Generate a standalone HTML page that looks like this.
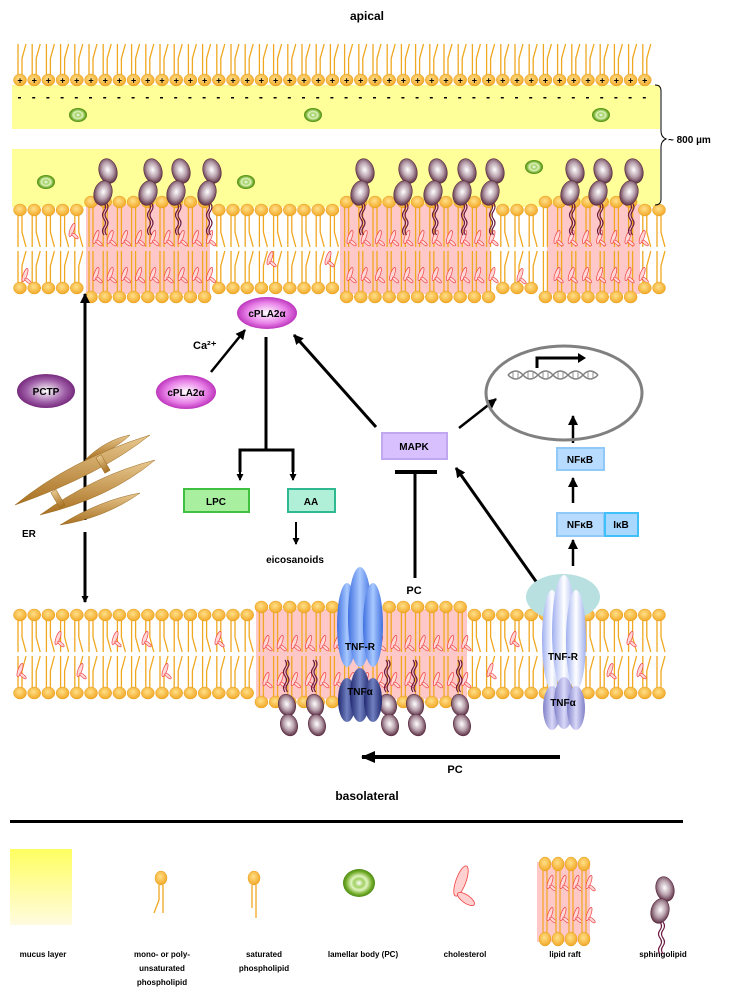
<!DOCTYPE html>
<html><head><meta charset="utf-8">
<style>
html,body{margin:0;padding:0;background:#fff;}
svg{display:block;font-family:"Liberation Sans",Arial,sans-serif;font-weight:bold;}
</style></head>
<body>
<svg id="s" width="735" height="1000" viewBox="0 0 735 1000" xmlns="http://www.w3.org/2000/svg">
<defs>
<radialGradient id="head" cx="45%" cy="40%" r="60%"><stop offset="0" stop-color="#ffe08a"/><stop offset="1" stop-color="#f2a825"/></radialGradient>
<radialGradient id="sph" cx="50%" cy="45%" r="60%"><stop offset="0" stop-color="#ffffff"/><stop offset="0.5" stop-color="#b8a0ac"/><stop offset="1" stop-color="#4a1a30"/></radialGradient>
<radialGradient id="mag" cx="50%" cy="50%" r="55%"><stop offset="0" stop-color="#ffffff"/><stop offset="0.6" stop-color="#e880e8"/><stop offset="1" stop-color="#b020b0"/></radialGradient>
<radialGradient id="pur" cx="50%" cy="50%" r="55%"><stop offset="0" stop-color="#ffffff"/><stop offset="0.6" stop-color="#a060a8"/><stop offset="1" stop-color="#6a1a70"/></radialGradient>
<radialGradient id="lam" cx="50%" cy="50%" r="50%"><stop offset="0" stop-color="#ffffff"/><stop offset="0.3" stop-color="#a0d060"/><stop offset="0.5" stop-color="#e0f4c0"/><stop offset="0.8" stop-color="#78b030"/><stop offset="1" stop-color="#4a8a10"/></radialGradient>
<linearGradient id="tnf" x1="0" x2="1"><stop offset="0" stop-color="#4070e0"/><stop offset="0.5" stop-color="#a8c8ff"/><stop offset="1" stop-color="#4070e0"/></linearGradient>
<linearGradient id="tnfa" x1="0" x2="1"><stop offset="0" stop-color="#202870"/><stop offset="0.5" stop-color="#7080c0"/><stop offset="1" stop-color="#202870"/></linearGradient>
<linearGradient id="tnf2" x1="0" x2="1"><stop offset="0" stop-color="#a0b0f0"/><stop offset="0.5" stop-color="#ffffff"/><stop offset="1" stop-color="#a0b0f0"/></linearGradient>
<linearGradient id="tnfa2" x1="0" x2="1"><stop offset="0" stop-color="#8080c8"/><stop offset="0.5" stop-color="#d8d8f8"/><stop offset="1" stop-color="#8080c8"/></linearGradient>
<linearGradient id="muc" x1="0" y1="0" x2="0" y2="1"><stop offset="0" stop-color="#ffff60"/><stop offset="1" stop-color="#fffbe0"/></linearGradient>
<linearGradient id="er" x1="0" y1="0" x2="0" y2="1"><stop offset="0" stop-color="#e8c890"/><stop offset="1" stop-color="#a87020"/></linearGradient>
<marker id="ar" markerWidth="10" markerHeight="10" refX="9" refY="5" orient="auto" markerUnits="userSpaceOnUse"><path d="M0,0 L10,5 L0,10 z" fill="#000"/></marker>
<marker id="ar2" markerWidth="7" markerHeight="7" refX="6" refY="3.5" orient="auto" markerUnits="userSpaceOnUse"><path d="M0,0 L7,3.5 L0,7 z" fill="#000"/></marker>
<marker id="ar3" markerWidth="14" markerHeight="12" refX="13" refY="6" orient="auto" markerUnits="userSpaceOnUse"><path d="M0,0 L14,6 L0,12 z" fill="#000"/></marker>
</defs>

<text x="367" y="20" text-anchor="middle" font-size="12">apical</text>

<rect x="12" y="85" width="648" height="44" fill="#ffff99"/>
<rect x="12" y="149" width="648" height="58" fill="#ffff99"/>
<g id="dyn"></g>
<path d="M655,85 q6,0 6,6 v40 q0,6 5,8 q-5,2 -5,8 v52 q0,6 -6,6" fill="none" stroke="#000" stroke-width="1"/>
<text x="668" y="143" font-size="10">~ 800 µm</text>

<g stroke="#000" stroke-width="3" fill="none">
<line x1="85" y1="520" x2="85" y2="294" marker-end="url(#ar)"/>
<line x1="85" y1="532" x2="85" y2="602" marker-end="url(#ar2)"/>
<line x1="211" y1="372" x2="245" y2="330" stroke-width="2.5" marker-end="url(#ar)"/>
<line x1="266" y1="337" x2="266" y2="450"/>
<polyline points="240,472 240,450 293,450 293,472" />
<line x1="240" y1="470" x2="240" y2="480" stroke-width="2" marker-end="url(#ar2)"/>
<line x1="293" y1="470" x2="293" y2="480" stroke-width="2" marker-end="url(#ar2)"/>
<line x1="296" y1="522" x2="296" y2="544" stroke-width="2" marker-end="url(#ar2)"/>
<line x1="376" y1="427" x2="294" y2="335" marker-end="url(#ar)"/>
<line x1="459" y1="428" x2="496" y2="399" stroke-width="2.5" marker-end="url(#ar)"/>
<line x1="395" y1="472" x2="437" y2="472" stroke-width="4"/>
<line x1="415" y1="472" x2="415" y2="578"/>
<line x1="547" y1="597" x2="456" y2="468" marker-end="url(#ar)"/>
<line x1="573" y1="566" x2="573" y2="540" stroke-width="2.5" marker-end="url(#ar)"/>
<line x1="573" y1="503" x2="573" y2="478" stroke-width="2.5" marker-end="url(#ar)"/>
<line x1="573" y1="443" x2="573" y2="416" stroke-width="2.5" marker-end="url(#ar)"/>
<line x1="560" y1="757" x2="362" y2="757" stroke-width="4" marker-end="url(#ar3)"/>
</g>

<ellipse cx="267" cy="313" rx="30" ry="16" fill="url(#mag)"/>
<text x="267" y="317" text-anchor="middle" font-size="10">cPLA2α</text>
<ellipse cx="186" cy="392" rx="30" ry="17" fill="url(#mag)"/>
<text x="186" y="396" text-anchor="middle" font-size="10">cPLA2α</text>
<text x="193" y="349" font-size="11">Ca²⁺</text>
<ellipse cx="46" cy="391" rx="29" ry="17" fill="url(#pur)"/>
<text x="46" y="395" text-anchor="middle" font-size="10" fill="#000">PCTP</text>

<g fill="url(#er)" stroke="#9a6a20" stroke-width="0.5">
<path d="M85,460 q20,-20 45,-25 q-15,15 -45,25z"/>
<path d="M15,505 q55,-45 135,-70 q-50,40 -135,70z"/>
<path d="M40,515 q55,-40 115,-55 q-45,38 -115,55z"/>
<path d="M60,525 q40,-25 80,-32 q-35,25 -80,32z"/>
<rect x="100" y="455" width="6" height="18" transform="rotate(-30 103 464)"/>
<rect x="55" y="490" width="6" height="18" transform="rotate(-30 58 499)"/>
</g>
<text x="22" y="537" font-size="10">ER</text>

<rect x="184" y="489" width="65" height="23" fill="#a8f0a0" stroke="#40c040" stroke-width="2"/>
<text x="216" y="505" text-anchor="middle" font-size="10">LPC</text>
<rect x="288" y="489" width="47" height="23" fill="#b0f0d8" stroke="#30b890" stroke-width="2"/>
<text x="311" y="505" text-anchor="middle" font-size="10">AA</text>
<text x="295" y="563" text-anchor="middle" font-size="10">eicosanoids</text>
<rect x="382" y="433" width="65" height="26" fill="#d8c0ff" stroke="#c0a8f0" stroke-width="2"/>
<text x="414" y="450" text-anchor="middle" font-size="10">MAPK</text>
<rect x="557" y="448" width="47" height="22" fill="#b8dcff" stroke="#90c8f8" stroke-width="2"/>
<text x="580" y="463" text-anchor="middle" font-size="10">NFκB</text>
<rect x="557" y="513" width="47" height="23" fill="#b8dcff" stroke="#90c8f8" stroke-width="2"/>
<text x="580" y="528" text-anchor="middle" font-size="10">NFκB</text>
<rect x="605" y="513" width="33" height="23" fill="#a8d8ff" stroke="#40c0f8" stroke-width="2"/>
<text x="621" y="528" text-anchor="middle" font-size="10">IκB</text>

<ellipse cx="564" cy="393" rx="78" ry="47" fill="none" stroke="#808080" stroke-width="3"/>
<path d="M537,368 v-10 h43" fill="none" stroke="#000" stroke-width="3"/>
<path d="M578,353 l8,5 l-8,5z" fill="#000"/>
<g stroke="#808080" stroke-width="1.5" fill="none">
<path d="M508,375 q8,-8 15,0 t15,0 t15,0 t15,0 t15,0 t15,0"/>
<path d="M508,375 q8,8 15,0 t15,0 t15,0 t15,0 t15,0 t15,0"/>
</g>
<g stroke="#909090" stroke-width="1">
<line x1="513" y1="372" x2="513" y2="378"/><line x1="518" y1="371" x2="518" y2="379"/>
<line x1="528" y1="372" x2="528" y2="378"/><line x1="533" y1="371" x2="533" y2="379"/>
<line x1="543" y1="372" x2="543" y2="378"/><line x1="548" y1="371" x2="548" y2="379"/>
<line x1="558" y1="372" x2="558" y2="378"/><line x1="563" y1="371" x2="563" y2="379"/>
<line x1="573" y1="372" x2="573" y2="378"/><line x1="578" y1="371" x2="578" y2="379"/>
<line x1="588" y1="372" x2="588" y2="378"/><line x1="593" y1="371" x2="593" y2="379"/>
</g>
<text x="414" y="594" text-anchor="middle" font-size="11">PC</text>
<text x="455" y="773" text-anchor="middle" font-size="11">PC</text>

<g id="dyn2"></g>

<text x="367" y="800" text-anchor="middle" font-size="12">basolateral</text>
<rect x="10" y="820" width="673" height="3" fill="#000"/>
<rect x="10" y="849" width="62" height="76" fill="url(#muc)"/>
<g font-size="8" text-anchor="middle">
<text x="43" y="957">mucus layer</text>
<text x="162" y="957">mono- or poly-</text>
<text x="162" y="971">unsaturated</text>
<text x="162" y="985">phospholipid</text>
<text x="264" y="957">saturated</text>
<text x="264" y="971">phospholipid</text>
<text x="363" y="957">lamellar body (PC)</text>
<text x="465" y="957">cholesterol</text>
<text x="565" y="957">lipid raft</text>
<text x="663" y="957">sphingolipid</text>
</g>
<g id="dyn3"></g>
</svg>
<script>
var NS="http://www.w3.org/2000/svg";
function el(p,t,a){var e=document.createElementNS(NS,t);for(var k in a)e.setAttribute(k,a[k]);p.appendChild(e);return e;}
var D=document.getElementById('dyn'),D2=document.getElementById('dyn2'),D3=document.getElementById('dyn3');
var OR="#f0a820";
function lipid(g,x,y,dir,len,kink){
  var y0=y+dir*5,y1=y+dir*len;
  el(g,'line',{x1:x-2,y1:y0,x2:x-2,y2:y1,stroke:OR,'stroke-width':1.3});
  if(kink){var ym=y+dir*len*0.6;el(g,'polyline',{points:(x+2)+','+y0+' '+(x+2)+','+ym+' '+(x+6)+','+y1,fill:'none',stroke:OR,'stroke-width':1.3});}
  else el(g,'line',{x1:x+2,y1:y0,x2:x+2,y2:y1,stroke:OR,'stroke-width':1.3});
}
function head(g,x,y){el(g,'ellipse',{cx:x,cy:y,rx:6.5,ry:6,fill:'url(#head)',stroke:'#e8a020','stroke-width':0.5});}
function chol(g,x,y){el(g,'ellipse',{cx:x,cy:y,rx:2,ry:7,fill:'#ffd8d8',stroke:'#f04040','stroke-width':0.7,transform:'rotate(20 '+x+' '+y+')'});
 el(g,'ellipse',{cx:x+3,cy:y+6,rx:1.5,ry:4,fill:'#ffd8d8',stroke:'#f04040','stroke-width':0.6,transform:'rotate(-50 '+(x+3)+' '+(y+6)+')'});}
function sph(g,x,y,tail){
  if(tail){for(var k=-2;k<=2;k+=2.5){el(g,'path',{d:'M'+(x+k)+','+(y+10)+' q3,4 0,8 t0,8 t0,8 t0,8',fill:'none',stroke:'#6a1a40','stroke-width':1.2});}}
  el(g,'ellipse',{cx:x+2,cy:y-22,rx:9,ry:12.5,fill:'url(#sph)',stroke:'#5a2a40','stroke-width':0.6,transform:'rotate(-15 '+(x+2)+' '+(y-22)+')'});
  el(g,'ellipse',{cx:x-3,cy:y,rx:9,ry:12.5,fill:'url(#sph)',stroke:'#5a2a40','stroke-width':0.6,transform:'rotate(15 '+(x-3)+' '+y+')'});
}
function sphDown(g,x,y){
  el(g,'ellipse',{cx:x,cy:y,rx:8.5,ry:11,fill:'url(#sph)',stroke:'#5a2a40','stroke-width':0.6,transform:'rotate(-15 '+x+' '+y+')'});
  el(g,'ellipse',{cx:x+2,cy:y+20,rx:8.5,ry:11,fill:'url(#sph)',stroke:'#5a2a40','stroke-width':0.6,transform:'rotate(-15 '+(x+2)+' '+(y+20)+')'});
}
function lam(g,x,y,s){el(g,'ellipse',{cx:x,cy:y,rx:9*s,ry:7*s,fill:'url(#lam)'});}
for(var x=20;x<=650;x+=14.2){lipid(D,x,80,-1,36,1);}
for(var x=20;x<=650;x+=14.2){head(D,x,80);el(D,'text',{x:x,y:83.5,'text-anchor':'middle','font-size':9}).textContent='+';}
for(var x=18;x<=650;x+=14.2){el(D,'rect',{x:x,y:97,width:3,height:1.5,fill:'#000'});}
lam(D,78,115,1);lam(D,313,115,1);lam(D,601,115,1);lam(D,46,182,1);lam(D,246,182,1);lam(D,534,167,1);
function bilayer(g,yt,yb,rafts,chols){
  rafts.forEach(function(r){el(g,'rect',{x:r[0],y:yt-6,width:r[1]-r[0],height:yb-yt+12,fill:'#ffc8c8'});});
  function inR(x){return rafts.some(function(r){return x>=r[0]-3&&x<=r[1]+3;});}
  var mid=(yt+yb)/2;
  for(var x=20;x<=660;x+=14.2){
    var r=inR(x);var t=r?yt-8:yt,b=r?yb+9:yb;
    lipid(g,x,t,1,mid-t-2,!r);lipid(g,x,b,-1,b-mid-2,!r);
  }
  chols.forEach(function(c){chol(g,c[0],c[1]);});
  rafts.forEach(function(r){for(var x=r[0]+6;x<r[1];x+=14.2){chol(g,x+4,mid-12);chol(g,x+4,yb-14);}});
  for(var x=20;x<=660;x+=14.2){var r=inR(x);head(g,x,r?yt-8:yt);head(g,x,r?yb+9:yb);}
}
bilayer(D,210,288,[[86,210],[340,490],[547,640]],[[72,230],[270,258],[328,258],[25,275],[520,275]]);
[106,151,179,210,363,406,436,465,493,573,601,632].forEach(function(x){sph(D,x,193,true);});
bilayer(D2,615,693,[[256,467]],[[58,638],[115,638],[145,638],[218,638],[513,638],[630,638],[20,670],[80,670],[165,670],[490,670],[610,670],[640,670]]);
[287,315,388,415,460].forEach(function(x){for(var k=-2;k<=2;k+=2.5)el(D2,'path',{d:'M'+(x+k)+','+(660)+' q3,4 0,8 t0,8 t0,8 t0,8',fill:'none',stroke:'#6a1a40','stroke-width':1.2});sphDown(D2,x,705);});
[[347,625,10,42],[360,617,12,50],[373,625,10,42]].forEach(function(a){el(D2,'ellipse',{cx:a[0],cy:a[1],rx:a[2],ry:a[3],fill:'url(#tnf)'});});
[[347,700,9,22],[360,695,10,27],[373,700,9,22]].forEach(function(a){el(D2,'ellipse',{cx:a[0],cy:a[1],rx:a[2],ry:a[3],fill:'url(#tnfa)'});});
el(D2,'ellipse',{cx:563,cy:597,rx:37,ry:23,fill:'#b8e0e0'});
[[552,640,10,50],[564,632,12,57],[576,640,10,50]].forEach(function(a){el(D2,'ellipse',{cx:a[0],cy:a[1],rx:a[2],ry:a[3],fill:'url(#tnf2)'});});
[[552,708,9,22],[564,703,10,26],[576,708,9,22]].forEach(function(a){el(D2,'ellipse',{cx:a[0],cy:a[1],rx:a[2],ry:a[3],fill:'url(#tnfa2)'});});
var t1=el(D2,'text',{x:360,y:650,'text-anchor':'middle','font-size':10});t1.textContent='TNF-R';
var t2=el(D2,'text',{x:360,y:695,'text-anchor':'middle','font-size':10,fill:'#000'});t2.textContent='TNFα';
var t3=el(D2,'text',{x:563,y:660,'text-anchor':'middle','font-size':10});t3.textContent='TNF-R';
var t4=el(D2,'text',{x:563,y:706,'text-anchor':'middle','font-size':10});t4.textContent='TNFα';
function lhead(x,y){el(D3,'ellipse',{cx:x,cy:y,rx:6,ry:7,fill:'url(#head)',stroke:'#e8a020','stroke-width':0.5});}
el(D3,'line',{x1:163,y1:885,x2:163,y2:913,stroke:OR,'stroke-width':1.3});
el(D3,'polyline',{points:'159,885 159,900 154,913',fill:'none',stroke:OR,'stroke-width':1.3});lhead(161,878);
el(D3,'line',{x1:252,y1:885,x2:252,y2:908,stroke:OR,'stroke-width':1.3});
el(D3,'line',{x1:256,y1:885,x2:256,y2:918,stroke:OR,'stroke-width':1.3});lhead(254,878);
el(D3,'ellipse',{cx:359,cy:883,rx:16,ry:14,fill:'url(#lam)'});
el(D3,'ellipse',{cx:461,cy:881,rx:5,ry:16,fill:'#ffd0d0',stroke:'#f04040','stroke-width':0.8,transform:'rotate(20 461 881)'});
el(D3,'ellipse',{cx:466,cy:899,rx:4,ry:10,fill:'#ffd0d0',stroke:'#f04040','stroke-width':0.8,transform:'rotate(-55 466 899)'});
el(D3,'rect',{x:537,y:862,width:53,height:80,fill:'#ffc8c8'});
[545,558,571,584].forEach(function(x){el(D3,'line',{x1:x-2,y1:868,x2:x-2,y2:935,stroke:OR,'stroke-width':1.2});el(D3,'line',{x1:x+2,y1:868,x2:x+2,y2:935,stroke:OR,'stroke-width':1.2});chol(D3,x+5,882);chol(D3,x+5,914);lhead(x,864);lhead(x,939);});
sph(D3,663,911,false);
[-2,1].forEach(function(k){el(D3,'path',{d:'M'+(662+k)+',922 q3,4 0,8 t0,8 t0,8 t0,8',fill:'none',stroke:'#6a1a40','stroke-width':1.2});});
</script>
</body></html>
